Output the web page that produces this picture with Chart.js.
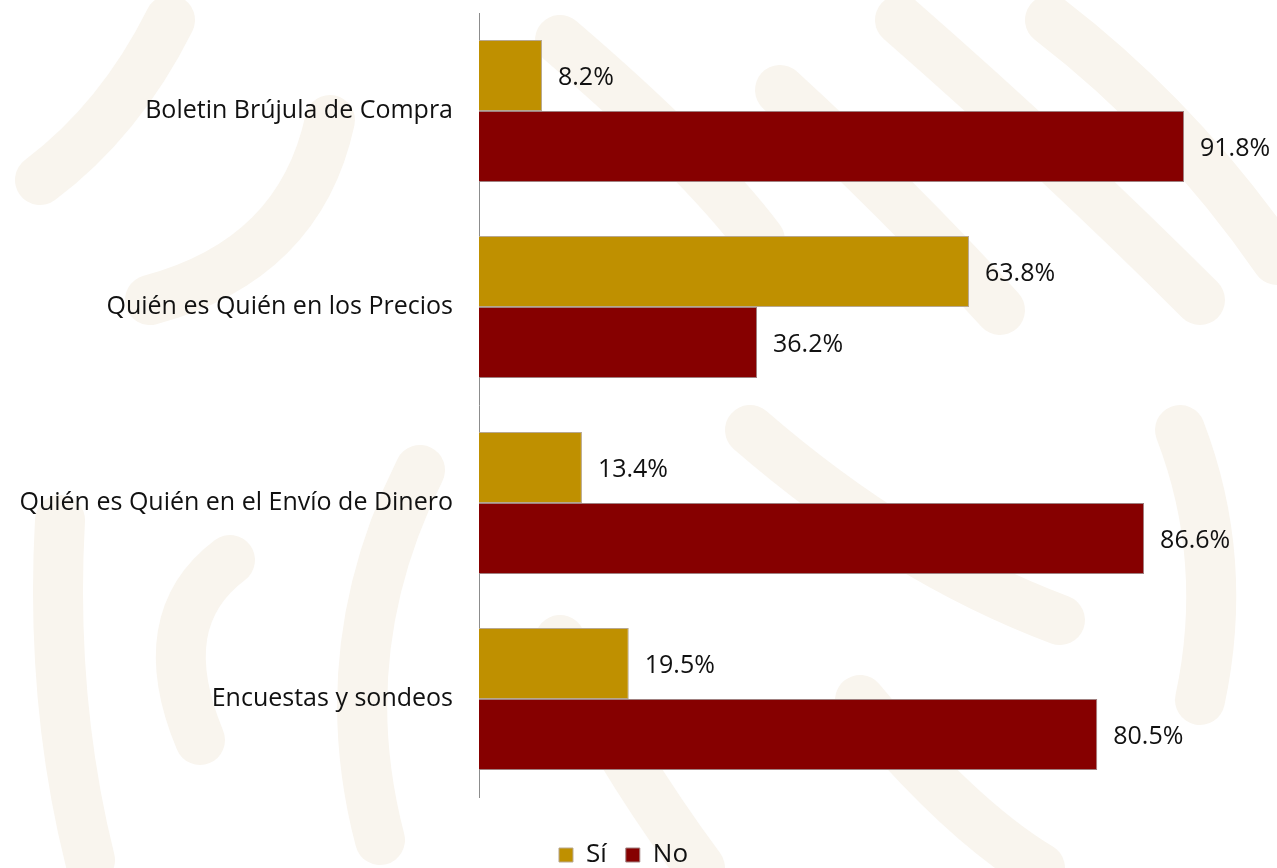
<!DOCTYPE html>
<html lang="es">
<head>
<meta charset="utf-8">
<title>Sí / No por publicación</title>
<script src="https://cdn.jsdelivr.net/npm/chart.js@4/dist/chart.umd.min.js"></script>
<style>
  html, body { margin: 0; padding: 0; background: #fff; }
  #wrap { width: 1277px; height: 868px; position: relative; }
</style>
</head>
<body>
<div id="wrap"><canvas id="chart"></canvas></div>
<script>
const CATEGORIES = [
  'Boletin Brújula de Compra',
  'Quién es Quién en los Precios',
  'Quién es Quién en el Envío de Dinero',
  'Encuestas y sondeos',
];
const SI_VALUES = [8.2, 63.8, 13.4, 19.5];
const NO_VALUES = [91.8, 36.2, 86.6, 80.5];
const SERIES_LABELS = ['Sí', 'No'];

const FONT = '"Open Sans", Lato, sans-serif';

// faint beige ornament behind the chart
const backdrop = {
  id: 'backdrop',
  beforeDraw(chart) {
    const c = chart.ctx;
    c.save();
    c.fillStyle = '#fff';
    c.fillRect(0, 0, chart.width, chart.height);
    c.strokeStyle = '#f9f5ee';
    c.lineCap = 'round';
    c.lineWidth = 50;
    const paths = [
      [[40, 180], [120, 120], [170, 20]],
      [[60, 520], [50, 700], [90, 860]],
      [[150, 300], [300, 260], [330, 120]],
      [[230, 560], [150, 620], [200, 740]],
      [[380, 840], [330, 650], [420, 470]],
      [[560, 40], [700, 160], [760, 240]],
      [[780, 90], [900, 200], [1000, 310]],
      [[900, 20], [1060, 160], [1200, 300]],
      [[1050, 20], [1180, 120], [1277, 260]],
      [[560, 640], [620, 760], [700, 868]],
      [[750, 430], [900, 560], [1060, 620]],
      [[1180, 430], [1230, 560], [1200, 700]],
      [[860, 700], [960, 820], [1040, 868]],
    ];
    paths.forEach(([a, b, d]) => {
      c.beginPath();
      c.moveTo(a[0], a[1]);
      c.quadraticCurveTo(b[0], b[1], d[0], d[1]);
      c.stroke();
    });
    c.restore();
  },
};

// pull the legend a little lower, closer to the bottom edge
const legendShift = {
  id: 'legendShift',
  afterInit(chart) {
    const legend = chart.legend;
    const fit = legend.fit;
    legend.fit = function () {
      fit.call(this);
      this.height -= 10;
    };
  },
};

// value labels to the right of each bar
const valueLabels = {
  id: 'valueLabels',
  afterDatasetsDraw(chart) {
    const c = chart.ctx;
    c.save();
    c.font = `25px ${FONT}`;
    c.fillStyle = '#111';
    c.textAlign = 'left';
    c.textBaseline = 'middle';
    chart.data.datasets.forEach((ds, di) => {
      chart.getDatasetMeta(di).data.forEach((bar, i) => {
        c.fillText(`${ds.data[i].toFixed(1)}%`, bar.x + 16, bar.y + 2);
      });
    });
    c.restore();
  },
};

const ctx = document.getElementById('chart');

new Chart(ctx, {
  type: 'bar',
  data: {
    labels: CATEGORIES,
    datasets: [
      {
        label: SERIES_LABELS[0],
        data: SI_VALUES,
        backgroundColor: '#bf9000',
        borderColor: '#b8a890',
        borderWidth: 1,
      },
      {
        label: SERIES_LABELS[1],
        data: NO_VALUES,
        backgroundColor: '#860000',
        borderColor: '#a08080',
        borderWidth: 1,
      },
    ],
  },
  options: {
    indexAxis: 'y',
    responsive: true,
    maintainAspectRatio: false,
    animation: false,
    categoryPercentage: 0.725,
    barPercentage: 1.0,
    layout: { padding: { top: 13, right: 30, bottom: 0, left: 0 } },
    scales: {
      x: {
        min: 0,
        max: 100,
        grid: { display: false },
        border: { display: false },
        ticks: { display: false },
        afterFit: (scale) => { scale.height = 26; },
      },
      y: {
        grid: { display: false },
        border: { display: true, color: '#8c8c8c', width: 1 },
        ticks: {
          color: '#111',
          padding: 18,
          font: { family: FONT, size: 25 },
        },
        afterFit: (scale) => {
          scale.width = 479;
          scale.paddingTop = 0;
          scale.paddingBottom = 0;
        },
      },
    },
    plugins: {
      legend: {
        position: 'bottom',
        labels: {
          color: '#111',
          boxWidth: 14,
          boxHeight: 14,
          padding: 19,
          font: { family: FONT, size: 26 },
        },
      },
      tooltip: { enabled: false },
    },
  },
  plugins: [backdrop, legendShift, valueLabels],
});
</script>
</body>
</html>
